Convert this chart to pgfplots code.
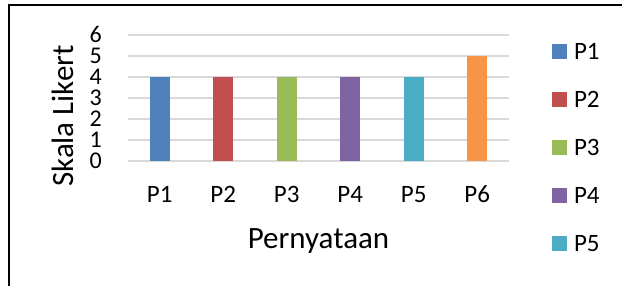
\documentclass[border=0pt]{standalone}
\usepackage{fontspec}
\setmainfont{Carlito}
\usepackage{pgfplots}
\pgfplotsset{compat=1.18}
\definecolor{c1}{HTML}{4F81BD}
\definecolor{c2}{HTML}{C0504D}
\definecolor{c3}{HTML}{9BBB59}
\definecolor{c4}{HTML}{8064A2}
\definecolor{c5}{HTML}{4BACC6}
\definecolor{c6}{HTML}{F79646}
\definecolor{gridgray}{HTML}{D9D9D9}
\pgfplotsset{
  mybar/.style={ybar, bar width=20pt, bar shift=0pt, draw=none, fill=#1,
    legend image code/.code={\fill[fill=#1] (0pt,0pt) rectangle (15pt,15pt);}},
}
\begin{document}
\begin{tikzpicture}
\useasboundingbox (0,0) rectangle (622pt,286pt);
\clip (0,0) rectangle (622pt,286pt);
\fill[white] (0,0) rectangle (622pt,286pt);
\draw[line width=2pt] (9pt,-10pt) -- (9pt,281pt) -- (640pt,281pt);
\begin{axis}[
  at={(128pt,125pt)}, anchor=south west,
  scale only axis, width=381pt, height=126pt,
  xmin=-0.5, xmax=5.5, ymin=0, ymax=6,
  xtick={0,1,2,3,4,5},
  xticklabels={P1,P2,P3,P4,P5,P6},
  ytick={0,1,2,3,4,5,6},
  /pgf/number format/assume math mode=true,
  axis line style={draw=none},
  tick style={draw=none},
  major tick length=0pt,
  ymajorgrids=true,
  grid style={gridgray, line width=1.5pt},
  ticklabel style={font=\fontsize{25}{25}\selectfont},
  xticklabel style={anchor=base, yshift=-42pt, inner sep=0pt},
  yticklabel style={anchor=east, xshift=-26pt, inner sep=0pt, text height=15pt, text depth=0pt, font=\fontsize{24}{24}\selectfont},
  xlabel={Pernyataan},
  ylabel={Skala Likert},
  label style={font=\fontsize{31}{31}\selectfont},
  xlabel style={at={(axis description cs:0.5,-0.698)}, anchor=base, inner sep=0pt},
  ylabel style={at={(axis description cs:-0.171,0.357)}, anchor=center, rotate=0, inner sep=0pt},
  legend style={at={(axis description cs:1.1129,0.9365)}, anchor=north west,
    draw=none, fill=none, inner sep=0pt, outer sep=0pt,
    font=\fontsize{25}{25}\selectfont,
    nodes={inner sep=0pt, text height=16pt, text depth=0pt, anchor=base west},
    row sep=32pt, column sep=7pt},
]
\addplot[mybar=c1] coordinates {(0,4)};
\addplot[mybar=c2] coordinates {(1,4)};
\addplot[mybar=c3] coordinates {(2,4)};
\addplot[mybar=c4] coordinates {(3,4)};
\addplot[mybar=c5] coordinates {(4,4)};
\addplot[mybar=c6] coordinates {(5,5)};
\legend{P1,P2,P3,P4,P5}
\end{axis}
\end{tikzpicture}
\end{document}
